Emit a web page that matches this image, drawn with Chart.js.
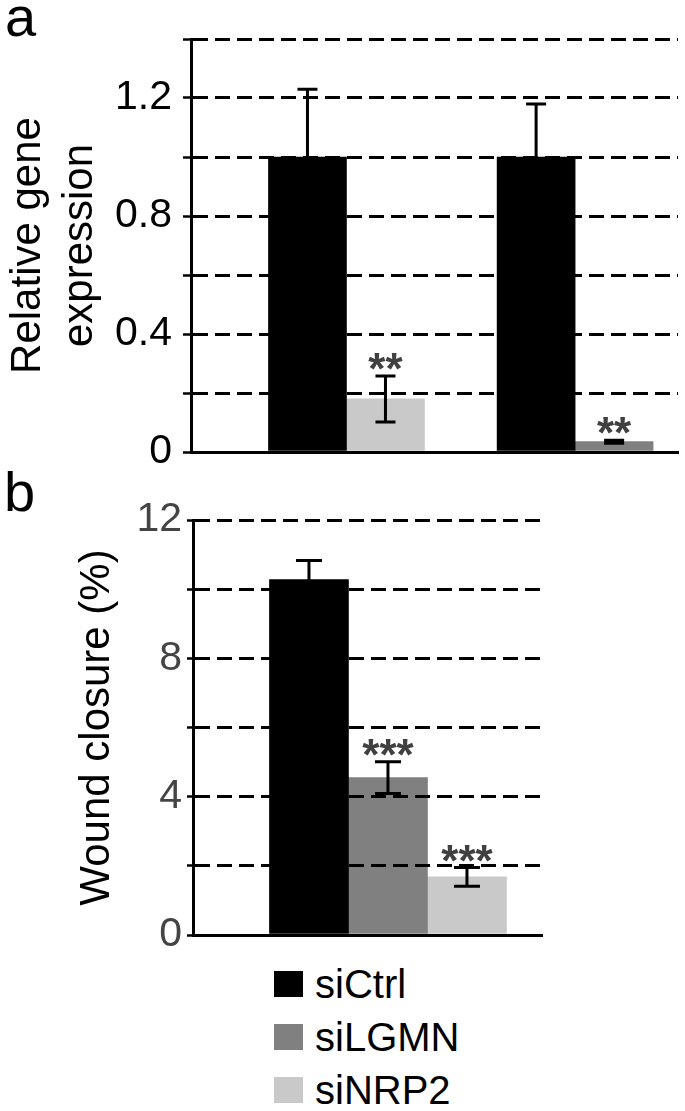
<!DOCTYPE html>
<html><head><meta charset="utf-8">
<script src="https://cdn.jsdelivr.net/npm/chart.js@4.4.0/dist/chart.umd.min.js"></script>
<style>
html,body{margin:0;padding:0;background:#fff;}
#wrap{position:relative;width:685px;height:1111px;overflow:hidden;font-family:"Liberation Sans",Arial,sans-serif;}
canvas{position:absolute;left:0;}
#ca{top:0;} #cb{top:470px;}
.plabel{position:absolute;font-size:56px;line-height:56px;color:#000;}
#legend{position:absolute;left:274px;top:958px;}
.lrow{display:flex;align-items:center;height:52.75px;}
.lsw{display:inline-block;width:29px;height:26px;margin-right:12px;}
.ltx{font-size:40px;line-height:40px;color:#000;}
</style></head><body>
<div id="wrap">
<div class="plabel" style="left:5px;top:-11px;">a</div>
<div class="plabel" style="left:4px;top:464px;">b</div>
<canvas id="ca" width="685" height="470"></canvas>
<canvas id="cb" width="685" height="485"></canvas>
<div id="legend"></div>
</div>
<script>
// ---- series ----
const seriesNames = ['siCtrl', 'siLGMN', 'siNRP2'];
const seriesColors = ['#000000', '#808080', '#c9c9c9'];

// ---- panel a: relative gene expression (groups: NRP2, LGMN) ----
const genesA = ['NRP2', 'LGMN'];
const ctrlA = [1.0, 1.0];
const ctrlErrA = [0.23, 0.18];
const lgmnA = [null, 0.035];
const lgmnErrA = [null, 0.005];
const nrp2A = [0.18, null];
const nrp2ErrA = [0.078, null];
const lgmnSigA = ['', '**'];
const nrp2SigA = ['**', ''];
const yTicksA = [0, 0.4, 0.8, 1.2];
const yTickLabelsA = ['0', '0.4', '0.8', '1.2'];

// ---- panel b: wound closure ----
const groupsB = ['Wound closure'];
const ctrlB = [10.28];
const ctrlErrB = [0.55];
const lgmnB = [4.55];
const lgmnErrB = [0.46];
const nrp2B = [1.68];
const nrp2ErrB = [0.27];
const lgmnSigB = ['***'];
const nrp2SigB = ['***'];
const yTicksB = [0, 4, 8, 12];
const yTickLabelsB = ['0', '4', '8', '12'];

const FONT = '"Liberation Sans", Arial, sans-serif';

function pts(groups, vals) { return groups.map((g, i) => ({x: i, y: vals[i]})); }
function ds(k, groups, vals, errs, sig) {
  return {label: seriesNames[k], data: pts(groups, vals), backgroundColor: seriesColors[k],
          borderWidth: 0, errors: errs, stars: sig || []};
}
function tickCb(ticks, labels) {
  return (v) => { const k = ticks.findIndex(t => Math.abs(t - v) < 1e-6); return k >= 0 ? labels[k] : ''; };
}

const errPlugin = {
  id: 'errbars',
  afterDraw(chart, args, opts) {
    const ctx = chart.ctx; const y = chart.scales.y;
    chart.data.datasets.forEach((d, di) => {
      const meta = chart.getDatasetMeta(di);
      meta.data.forEach((el, j) => {
        const v = d.data[j].y; const e = d.errors ? d.errors[j] : null;
        if (v == null || e == null) return;
        const top = y.getPixelForValue(v + e), bot = y.getPixelForValue(v - e);
        const c = opts.cap / 2;
        ctx.save();
        ctx.strokeStyle = '#000'; ctx.lineWidth = opts.lineWidth; ctx.setLineDash([]);
        ctx.beginPath();
        ctx.moveTo(el.x, top); ctx.lineTo(el.x, bot);
        ctx.moveTo(el.x - c, top); ctx.lineTo(el.x + c, top);
        ctx.moveTo(el.x - c, bot); ctx.lineTo(el.x + c, bot);
        ctx.stroke();
        const s = d.stars[j];
        if (s) {
          ctx.fillStyle = '#404040';
          ctx.font = 'bold 44px ' + FONT;
          ctx.textAlign = 'center'; ctx.textBaseline = 'alphabetic';
          ctx.fillText(s, el.x, top + opts.starOffset);
        }
        ctx.restore();
      });
    });
  }
};

function makeChart(id, cfg) {
  return new Chart(document.getElementById(id), {
    type: 'bar',
    data: {datasets: cfg.datasets},
    options: {
      responsive: false, animation: false,
      layout: {padding: cfg.padding},
      datasets: {bar: {barThickness: cfg.barThickness, skipNull: true}},
      plugins: {legend: {display: false}, tooltip: {enabled: false},
                errbars: {lineWidth: 3, cap: cfg.cap, starOffset: 8}},
      scales: {
        x: {type: 'linear', min: cfg.xMin, max: cfg.xMax, bounds: 'data', offset: false,
            grid: {display: false, drawTicks: false}, ticks: {display: false},
            border: {display: true, color: '#000', width: 3, z: 1}},
        y: {min: cfg.yMin, max: cfg.yMax,
            ticks: {stepSize: cfg.step, autoSkip: false, padding: cfg.tickPad, color: cfg.tickColor,
                    font: {family: FONT, size: 41}, callback: cfg.cb},
            grid: {color: '#000', lineWidth: 3, z: 1, drawTicks: true, tickLength: cfg.tickLen,
                   tickWidth: 2.5, tickColor: '#000', tickBorderDash: []},
            border: {display: true, color: '#000', width: 3, dash: [15, 7], z: 1},
            title: {display: true, text: cfg.title, color: '#000',
                    font: {family: FONT, size: 42, lineHeight: 1.25}, padding: {top: cfg.titlePad, bottom: 0}},
            afterFit: (s) => { s.width = cfg.axisW; s.paddingTop = 0; s.paddingBottom = 0; }}
      }
    },
    plugins: [errPlugin]
  });
}

makeChart('ca', {
  datasets: [ds(0, genesA, ctrlA, ctrlErrA, []), ds(1, genesA, lgmnA, lgmnErrA, lgmnSigA), ds(2, genesA, nrp2A, nrp2ErrA, nrp2SigA)],
  padding: {left: 0, right: 7, top: 39, bottom: 18},
  barThickness: 78, cap: 20, xMin: -0.68, xMax: 1.45,
  yMin: 0, yMax: 1.4, step: 0.2, tickPad: 11, tickLen: 8, tickColor: '#000',
  cb: tickCb(yTicksA, yTickLabelsA), title: ['Relative gene', 'expression'], titlePad: 2, axisW: 191
});

makeChart('cb', {
  datasets: [ds(0, groupsB, ctrlB, ctrlErrB, []), ds(1, groupsB, lgmnB, lgmnErrB, lgmnSigB), ds(2, groupsB, nrp2B, nrp2ErrB, nrp2SigB)],
  padding: {left: 0, right: 143, top: 50, bottom: 20},
  barThickness: 79, cap: 26, xMin: -1, xMax: 0.79,
  yMin: 0, yMax: 12, step: 2, tickPad: 5, tickLen: 6, tickColor: '#444',
  cb: tickCb(yTicksB, yTickLabelsB), title: 'Wound closure (%)', titlePad: 71, axisW: 193
});

const leg = document.getElementById('legend');
seriesNames.forEach((n, i) => {
  const row = document.createElement('div'); row.className = 'lrow';
  const sw = document.createElement('span'); sw.className = 'lsw'; sw.style.background = seriesColors[i];
  const tx = document.createElement('span'); tx.className = 'ltx'; tx.textContent = n;
  row.appendChild(sw); row.appendChild(tx); leg.appendChild(row);
});
</script>
</body></html>
